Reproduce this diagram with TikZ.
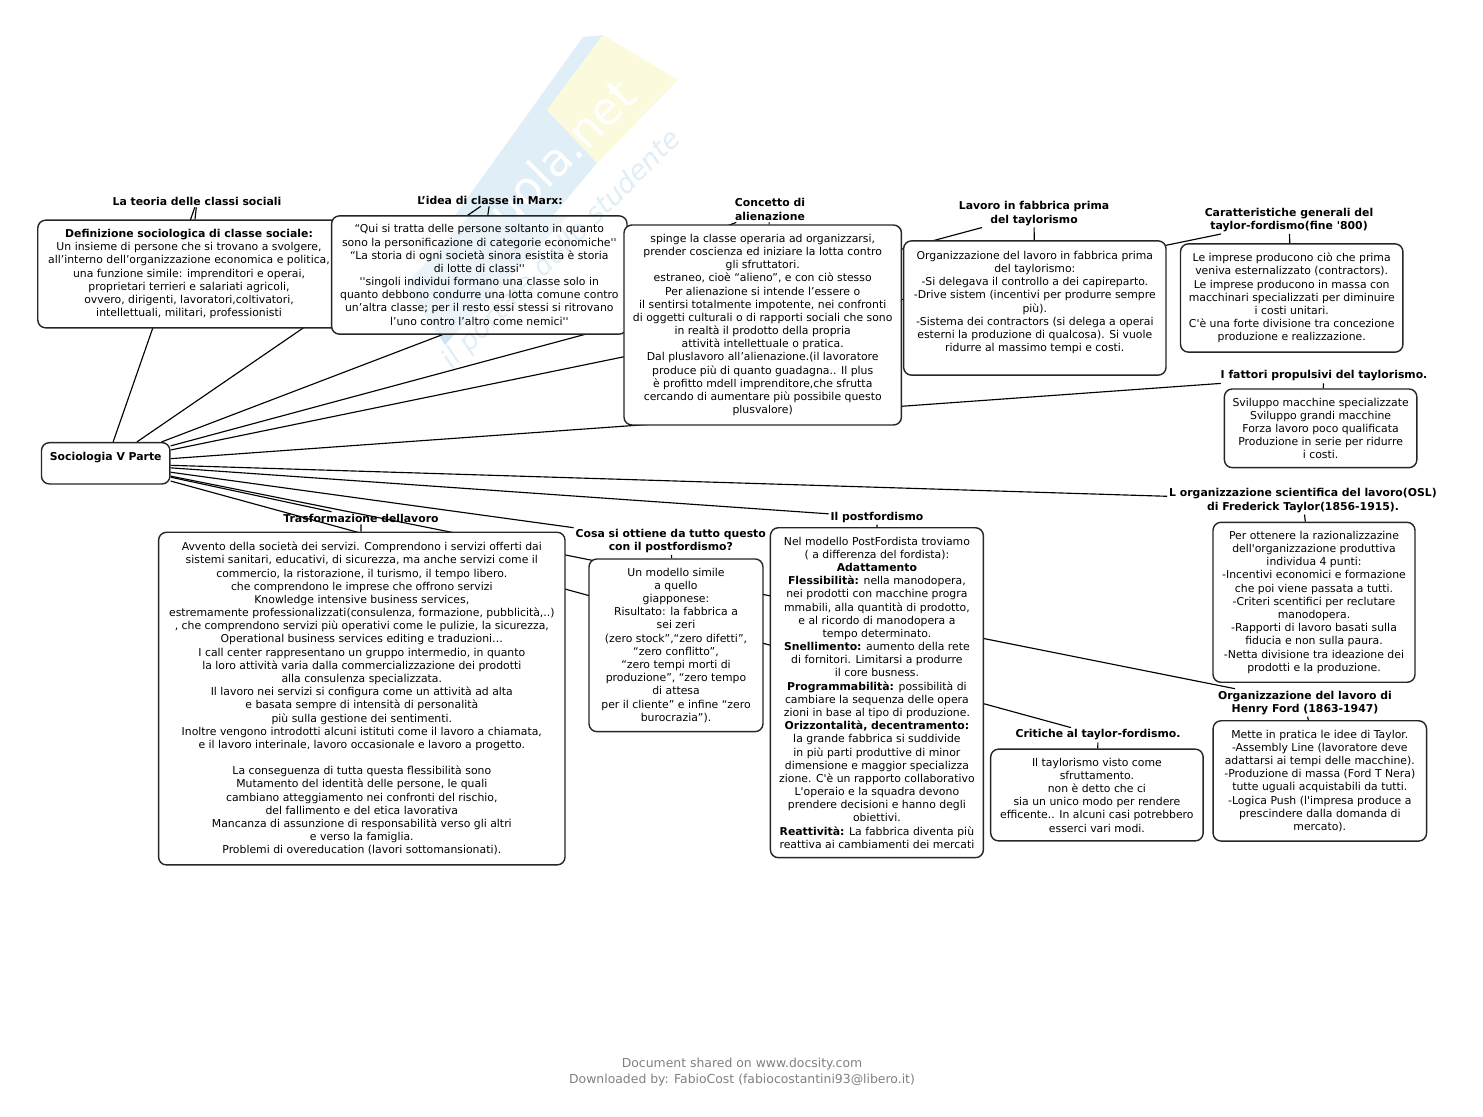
\documentclass[tikz,border=0pt]{standalone}
\usepackage{fontspec}
\usepackage{xcolor}
\usepackage{tikz}
\usetikzlibrary{backgrounds}
\newfontfamily\bodyfont{DejaVu Sans}
\definecolor{wmblue}{RGB}{224,238,248}
\definecolor{wmyellow}{RGB}{252,250,220}
\begin{document}
\begin{tikzpicture}[x=0.02cm,y=-0.02cm]
\tikzstyle{every node}+=[inner sep=0pt]
\tikzstyle{boxnode}=[draw=black!85,fill=white,line width=0.8pt,rounded corners=4.5pt,align=center,font=\bodyfont\fontsize{6.18}{7.5}\selectfont]
\tikzstyle{titlenode}=[inner sep=1pt,align=center,font=\bodyfont\bfseries\fontsize{6.18}{7.5}\selectfont]
\tikzstyle{footnode}=[text=black!50,font=\bodyfont\fontsize{7.07}{9}\selectfont]
\tikzstyle{linkline}=[black,line width=0.65pt]
\useasboundingbox (0,0) rectangle (1483,1116);
% root
\node [boxnode,minimum width=2.57cm,minimum height=0.826cm] (soc) at (105.7,463.3) {\textbf{Sociologia V Parte}\\ \mbox{}};
% titles
\node [titlenode] (tTeoria) at (197,201) {La teoria delle classi sociali};
\node [titlenode] (tMarx) at (490,200) {L’idea di classe in Marx:};
\node [titlenode] (tAlien) at (770,209.5) {Concetto di\\alienazione};
\node [titlenode] (tFabbrica) at (1034,213.5) {Lavoro in fabbrica prima\\del taylorismo};
\node [titlenode] (tCaratt) at (1289,220) {Caratteristiche generali del\\taylor-fordismo(fine '800)};
\node [titlenode] (tFattori) at (1324,376) {I fattori propulsivi del taylorismo.};
\node [titlenode] (tOsl) at (1303,500.5) {L organizzazione scientifica del lavoro(OSL)\\di Frederick Taylor(1856-1915).};
\node [titlenode] (tPost) at (877,517.2) {Il postfordismo};
\node [titlenode] (tCosa) at (670.8,541) {Cosa si ottiene da tutto questo\\con il postfordismo?};
\node [titlenode] (tTrasf) at (361,518) {Trasformazione dellavoro};
\node [titlenode] (tFord) at (1305,702.7) {Organizzazione del lavoro di\\Henry Ford (1863-1947)};
\node [titlenode] (tCrit) at (1098,735) {Critiche al taylor-fordismo.};
% boxes
\node [boxnode,minimum width=6.05cm,minimum height=2.154cm] (bTeoria) at (189,274) {\textbf{Definizione sociologica di classe sociale:}\\
Un insieme di persone che si trovano a svolgere,\\
all’interno dell’organizzazione economica e politica,\\
una funzione simile: imprenditori e operai,\\
proprietari terrieri e salariati agricoli,\\
ovvero, dirigenti, lavoratori,coltivatori,\\
intellettuali, militari, professionisti};
\node [boxnode,minimum width=5.91cm,minimum height=2.366cm] (bMarx) at (479.3,275) {“Qui si tratta delle persone soltanto in quanto\\
sono la personificazione di categorie economiche''\\
“La storia di ogni società sinora esistita è storia\\
di lotte di classi''\\
''singoli individui formano una classe solo in\\
quanto debbono condurre una lotta comune contro\\
un’altra classe; per il resto essi stessi si ritrovano\\
l’uno contro l’altro come nemici''};
\node [boxnode,minimum width=5.55cm,minimum height=4cm] (bAlien) at (762.7,325) {spinge la classe operaria ad organizzarsi,\\
prender coscienza ed iniziare la lotta contro\\
gli sfruttatori.\\
estraneo, cioè “alieno”, e con ciò stesso\\
Per alienazione si intende l’essere o\\
il sentirsi totalmente impotente, nei confronti\\
di oggetti culturali o di rapporti sociali che sono\\
in realtà il prodotto della propria\\
attività intellettuale o pratica.\\
Dal pluslavoro all’alienazione.(il lavoratore\\
produce più di quanto guadagna.. Il plus\\
è profitto mdell imprenditore,che sfrutta\\
cercando di aumentare più possibile questo\\
plusvalore)};
\node [boxnode,minimum width=5.25cm,minimum height=2.686cm] (bFabbrica) at (1034.8,308) {Organizzazione del lavoro in fabbrica prima\\
del taylorismo:\\
-Si delegava il controllo a dei capireparto.\\
-Drive sistem (incentivi per produrre sempre\\
più).\\
-Sistema dei contractors (si delega a operai\\
esterni la produzione di qualcosa). Si vuole\\
ridurre al massimo tempi e costi.\\ \mbox{}};
\node [boxnode,minimum width=4.45cm,minimum height=2.166cm] (bCaratt) at (1291.7,298) {Le imprese producono ciò che prima\\
veniva esternalizzato (contractors).\\
Le imprese producono in massa con\\
macchinari specializzati per diminuire\\
i costi unitari.\\
C'è una forte divisione tra concezione\\
produzione e realizzazione.};
\node [boxnode,minimum width=3.85cm,minimum height=1.574cm] (bFattori) at (1320.6,428.3) {Sviluppo macchine specializzate\\
Sviluppo grandi macchine\\
Forza lavoro poco qualificata\hspace*{6pt}\\
Produzione in serie per ridurre\\
i costi.};
\node [boxnode,minimum width=4.04cm,minimum height=3.2cm] (bOsl) at (1314,602.3) {Per ottenere la razionalizzazine\\
dell'organizzazione produttiva\\
individua 4 punti:\\
-Incentivi economici e formazione\\
che poi viene passata a tutti.\\
-Criteri scentifici per reclutare\\
manodopera.\\
-Rapporti di lavoro basati sulla\\
fiducia e non sulla paura.\\
-Netta divisione tra ideazione dei\\
prodotti e la produzione.};
\node [boxnode,minimum width=4.26cm,minimum height=6.6cm] (bPost) at (876.9,692.7) {Nel modello PostFordista troviamo\\
( a differenza del fordista):\\
\textbf{Adattamento}\\
\textbf{Flessibilità:} nella manodopera,\\
nei prodotti con macchine progra\\
mmabili, alla quantità di prodotto,\\
e al ricordo di manodopera a\\
tempo determinato.\\
\textbf{Snellimento:} aumento della rete\\
di fornitori. Limitarsi a produrre\\
il core busness.\\
\textbf{Programmabilità:} possibilità di\\
cambiare la sequenza delle opera\\
zioni in base al tipo di produzione.\\
\textbf{Orizzontalità, decentramento:}\\
la grande fabbrica si suddivide\\
in più parti produttive di minor\\
dimensione e maggior specializza\\
zione. C'è un rapporto collaborativo\\
L'operaio e la squadra devono\\
prendere decisioni e hanno degli\\
obiettivi.\\
\textbf{Reattività:} La fabbrica diventa più\\
reattiva ai cambiamenti dei mercati};
\node [boxnode,minimum width=3.48cm,minimum height=3.454cm] (bCosa) at (676,645.3) {Un modello simile\\
a quello\\
giapponese:\\
Risultato: la fabbrica a\\
sei zeri\\
(zero stock”,“zero difetti”,\\
“zero conflitto”,\\
“zero tempi morti di\\
produzione”, “zero tempo\\
di attesa\\
per il cliente” e infine “zero\\
burocrazia”).};
\node [boxnode,minimum width=8.13cm,minimum height=6.654cm] (bTrasf) at (361.8,698.6) {Avvento della società dei servizi. Comprendono i servizi offerti dai\\
sistemi sanitari, educativi, di sicurezza, ma anche servizi come il\\
commercio, la ristorazione, il turismo, il tempo libero.\\
che comprendono le imprese che offrono servizi\\
Knowledge intensive business services,\\
estremamente professionalizzati(consulenza, formazione, pubblicità,..)\\
, che comprendono servizi più operativi come le pulizie, la sicurezza,\\
Operational business services editing e traduzioni…\\
I call center rappresentano un gruppo intermedio, in quanto\\
la loro attività varia dalla commercializzazione dei prodotti\\
alla consulenza specializzata.\\
Il lavoro nei servizi si configura come un attività ad alta\\
e basata sempre di intensità di personalità\\
più sulla gestione dei sentimenti.\\
Inoltre vengono introdotti alcuni istituti come il lavoro a chiamata,\\
e il lavoro interinale, lavoro occasionale e lavoro a progetto.\\
\mbox{}\\
La conseguenza di tutta questa flessibilità sono\\
Mutamento del identità delle persone, le quali\\
cambiano atteggiamento nei confronti del rischio,\\
del fallimento e del etica lavorativa\\
Mancanza di assunzione di responsabilità verso gli altri\\
e verso la famiglia.\\
Problemi di overeducation (lavori sottomansionati).};
\node [boxnode,minimum width=4.25cm,minimum height=1.836cm] (bCrit) at (1096.9,795) {Il taylorismo visto come\\
sfruttamento.\\
non è detto che ci\\
sia un unico modo per rendere\\
efficente.. In alcuni casi potrebbero\\
esserci vari modi.};
\node [boxnode,minimum width=4.27cm,minimum height=2.406cm] (bFord) at (1319.8,780.9) {Mette in pratica le idee di Taylor.\\
-Assembly Line (lavoratore deve\\
adattarsi ai tempi delle macchine).\\
-Produzione di massa (Ford T Nera)\\
tutte uguali acquistabili da tutti.\\
-Logica Push (l'impresa produce a\\
prescindere dalla domanda di\\
mercato).};
% footer
\node [footnode] (fShared) at (742,1064.5) {Document shared on www.docsity.com};
\node [footnode] (fLoaded) at (742,1080.5) {Downloaded by: FabioCost (fabiocostantini93@libero.it)};
\begin{scope}[on background layer]
% watermark
\fill [wmblue] (583,37) -- (603,35) -- (547,110) -- (597,163) -- (445,345) -- (405,285) -- cycle;
\fill [wmyellow] (603,35) -- (678,80) -- (597,163) -- (547,110) -- cycle;
\node [text=white,rotate=45,font=\bodyfont\fontsize{26}{26}\selectfont] (wmName) at (542,172) {Skuola.net};
% connectors
\draw [linkline] (soc) -- (tTeoria);
\draw [linkline] (soc) -- (tMarx);
\draw [linkline] (soc) -- (tAlien);
\draw [linkline] (soc) -- (tFabbrica);
\draw [linkline] (soc) -- (tCaratt);
\draw [linkline] (soc) -- (tFattori);
\draw [linkline] (soc) -- (tOsl);
\draw [linkline] (soc) -- (tPost);
\draw [linkline] (soc) -- (tCosa);
\draw [linkline] (soc) -- (tTrasf);
\draw [linkline] (soc) -- (tFord);
\draw [linkline] (soc) -- (tCrit);
\draw [linkline] (tTeoria) -- (bTeoria);
\draw [linkline] (tMarx) -- (bMarx);
\draw [linkline] (tAlien) -- (bAlien);
\draw [linkline] (tFabbrica) -- (bFabbrica);
\draw [linkline] (tCaratt) -- (bCaratt);
\draw [linkline] (tFattori) -- (bFattori);
\draw [linkline] (tOsl) -- (bOsl);
\draw [linkline] (tPost) -- (bPost);
\draw [linkline] (tCosa) -- (bCosa);
\draw [linkline] (tTrasf) -- (bTrasf);
\draw [linkline] (tFord) -- (bFord);
\draw [linkline] (tCrit) -- (bCrit);
\end{scope}
% watermark over the boxes
\begin{scope}[blend mode=multiply]
\fill [wmblue,fill opacity=0.6] (469,216) -- (405,285) -- (445,345) -- (568,216) -- cycle;
\node [text=wmblue,rotate=45,font=\bodyfont\itshape\fontsize{15.5}{15.5}\selectfont] (wmSlogan) at (562,250) {il portale dello studente};
\end{scope}
\end{tikzpicture}
\end{document}
